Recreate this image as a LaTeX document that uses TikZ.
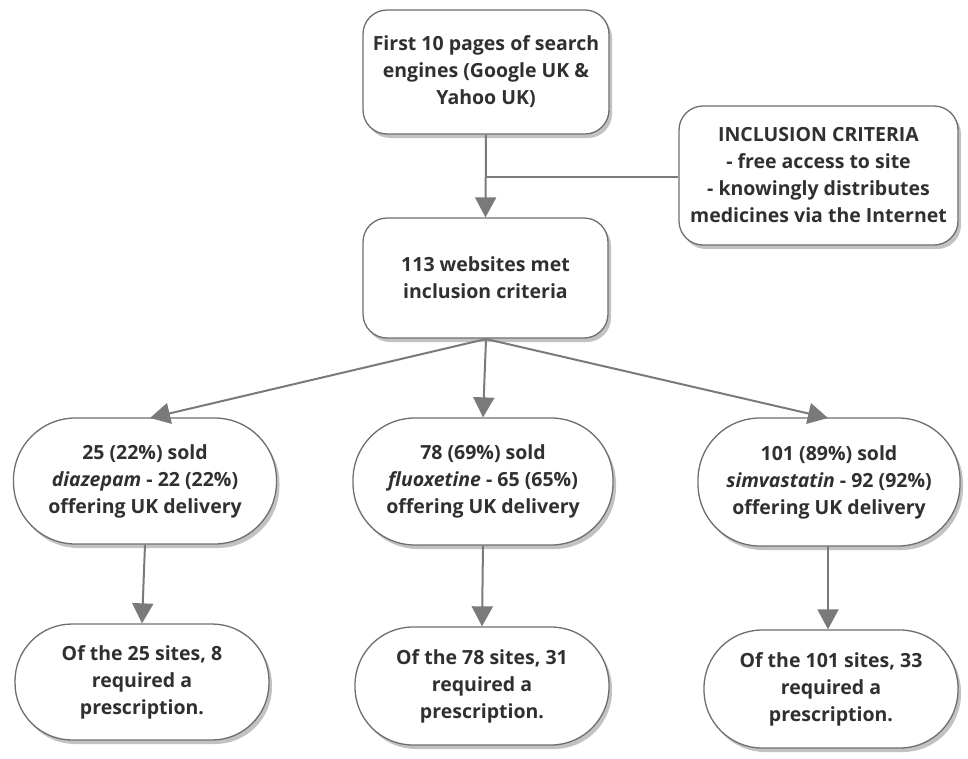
\documentclass[tikz,border=0pt]{standalone}
\usepackage{fontspec}
\setmainfont{Open Sans}
\usetikzlibrary{shadows,arrows.meta}
\definecolor{linegray}{HTML}{7A7A7A}
\definecolor{txtgray}{HTML}{303030}
\definecolor{bordgray}{HTML}{6E6E6E}
\tikzset{
  box/.style={draw=bordgray, line width=1.3pt, fill=white, align=center,
    text=txtgray, font=\fontsize{19.5}{27}\selectfont\bfseries,
    drop shadow={opacity=0.4, shadow xshift=3pt, shadow yshift=-4pt, fill=black!60},
    inner sep=0pt},
  conn/.style={draw=linegray, line width=2pt},
  arr/.style={conn, -{Triangle[length=20pt,width=21pt]}}
}
\begin{document}
\begin{tikzpicture}[x=1pt,y=-1pt]
\useasboundingbox (0,0) rectangle (968,758);
\node[box, minimum width=246pt, minimum height=124pt, rounded corners=24pt] (top) at (486,72)
  {First 10 pages of search\\engines (Google UK \&\\Yahoo UK)};
\node[box, minimum width=279pt, minimum height=139pt, rounded corners=24pt] (incl) at (818.5,175.5)
  {INCLUSION CRITERIA\\- free access to site\\- knowingly distributes\\medicines via the Internet};
\node[box, minimum width=245pt, minimum height=120pt, rounded corners=24pt] (mid) at (485.5,278)
  {113 websites met\\inclusion criteria};
\node[box, minimum width=263pt, minimum height=126pt, rounded corners=62pt] (o1) at (145,481)
  {25 (22\%) sold\\\textit{diazepam} - 22 (22\%)\\offering UK delivery};
\node[box, minimum width=260pt, minimum height=127pt, rounded corners=62pt] (o2) at (483,481.5)
  {78 (69\%) sold\\\textit{fluoxetine} - 65 (65\%)\\offering UK delivery};
\node[box, minimum width=262pt, minimum height=128pt, rounded corners=62pt] (o3) at (829,482)
  {101 (89\%) sold\\\textit{simvastatin} - 92 (92\%)\\offering UK delivery};
\node[box, minimum width=254pt, minimum height=116pt, rounded corners=57pt] (b1) at (142,682)
  {Of the 25 sites, 8\\required a\\prescription.};
\node[box, minimum width=254pt, minimum height=118pt, rounded corners=58pt] (b2) at (482,686)
  {Of the 78 sites, 31\\required a\\prescription.};
\node[box, minimum width=254pt, minimum height=118pt, rounded corners=58pt] (b3) at (831,689)
  {Of the 101 sites, 33\\required a\\prescription.};
\coordinate (split) at (486,339);
\coordinate (j) at (486,177);
\draw[arr] (top.south) -- (mid.north);
\draw[conn] (j) -- (j -| incl.west);
\draw[arr] (split) -- (150,418) coordinate (t1);
\draw[arr] (split) -- (o2.north);
\draw[arr] (split) -- (828,418) coordinate (t3);
\draw[arr] (o1.south) -- (b1.north);
\draw[arr] (o2.south) -- (b2.north);
\draw[arr] (828,546) coordinate (s3) -- (s3 |- b3.north);
\end{tikzpicture}
\end{document}
